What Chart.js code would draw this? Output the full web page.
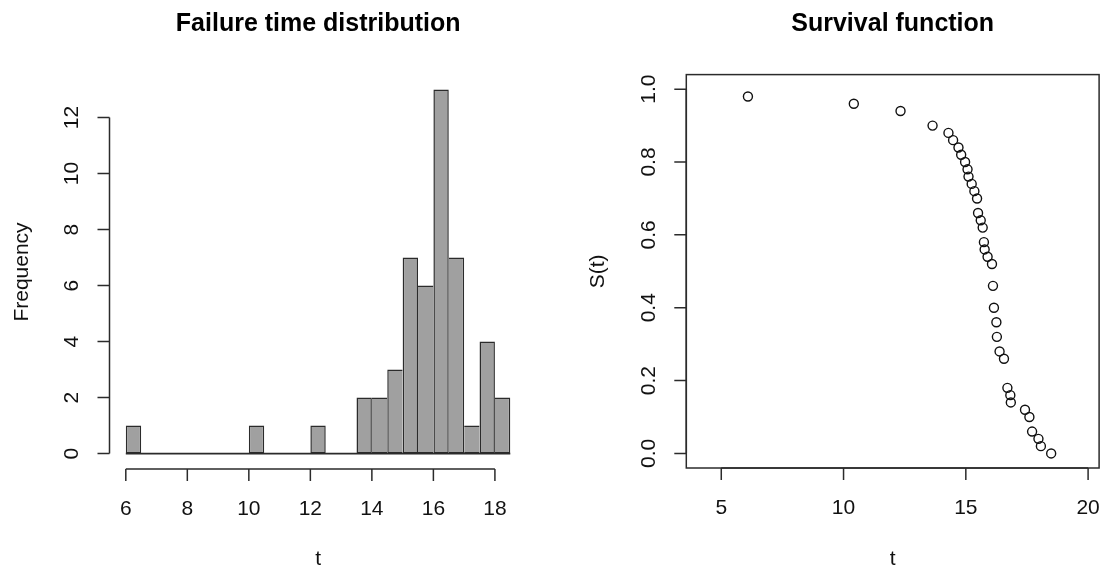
<!DOCTYPE html>
<html>
<head>
<meta charset="utf-8">
<title>Failure times</title>
<script src="https://cdn.jsdelivr.net/npm/chart.js@4.4.1/dist/chart.umd.min.js"></script>
<style>
body{margin:0;background:#fff;}
#graficas{position:relative;width:1105px;height:570px;}
#histo{position:absolute;left:0;top:0;}
#surv{position:absolute;left:552px;top:0;}
</style>
</head>
<body>
<div id="graficas">
	<canvas id="histo" width="552" height="570"></canvas>
	<canvas id="surv" width="553" height="570"></canvas>
</div>
<script>
// histogram: bin edges (width 0.5) and counts per bin
var histBreaks = [6, 6.5, 7, 7.5, 8, 8.5, 9, 9.5, 10, 10.5, 11, 11.5, 12, 12.5, 13, 13.5, 14, 14.5, 15, 15.5, 16, 16.5, 17, 17.5, 18, 18.5];
var histCounts = [1, 0, 0, 0, 0, 0, 0, 0, 1, 0, 0, 0, 1, 0, 0, 2, 2, 3, 7, 6, 13, 7, 1, 4, 2];
var histXTicks = [6, 8, 10, 12, 14, 16, 18];
var histYTicks = [0, 2, 4, 6, 8, 10, 12];

// survival function S(t) at the failure times
var survT = [6.09, 10.42, 12.33, 13.64, 14.29, 14.48, 14.70, 14.81, 14.97, 15.07, 15.11, 15.24, 15.35, 15.46, 15.50, 15.61, 15.69, 15.74, 15.77, 15.89, 16.07, 16.11, 16.15, 16.25, 16.27, 16.38, 16.56, 16.70, 16.82, 16.84, 17.42, 17.60, 17.71, 17.97, 18.07, 18.49];
var survS = [0.98, 0.96, 0.94, 0.90, 0.88, 0.86, 0.84, 0.82, 0.80, 0.78, 0.76, 0.74, 0.72, 0.70, 0.66, 0.64, 0.62, 0.58, 0.56, 0.54, 0.52, 0.46, 0.40, 0.36, 0.32, 0.28, 0.26, 0.18, 0.16, 0.14, 0.12, 0.10, 0.06, 0.04, 0.02, 0.00];
var survXTicks = [5, 10, 15, 20];
var survYTicks = [0, 0.2, 0.4, 0.6, 0.8, 1];
var survYLabels = ['0.0', '0.2', '0.4', '0.6', '0.8', '1.0'];

var fuente = '"Liberation Sans", Arial, Helvetica, sans-serif';
var tinta = '#2b2b2b';
var grosor = 1.5;

// ejes estilo R: linea solo entre el primer y ultimo tick, etiquetas y giradas
var ejesR = {
	id: 'ejesR',
	afterDatasetsDraw: function(chart, args, opts){
		var ctx = chart.ctx;
		var area = chart.chartArea;
		var sx = chart.scales.x, sy = chart.scales.y;
		ctx.save();
		ctx.strokeStyle = tinta;
		ctx.lineWidth = grosor;
		ctx.fillStyle = '#111';
		ctx.font = '21px ' + fuente;
		ctx.textAlign = 'center';
		ctx.textBaseline = 'middle';

		//eje x
		var xs = sx.ticks.map(function(t){ return sx.getPixelForValue(t.value); });
		var yb = area.bottom;
		ctx.beginPath();
		ctx.moveTo(xs[0], yb);
		ctx.lineTo(xs[xs.length - 1], yb);
		xs.forEach(function(px){
			ctx.moveTo(px, yb);
			ctx.lineTo(px, yb + 12);
		});
		ctx.stroke();
		sx.ticks.forEach(function(t, i){
			ctx.fillText(t.label, xs[i], yb + 40);
		});

		//eje y
		var ys = sy.ticks.map(function(t){ return sy.getPixelForValue(t.value); });
		var xl = area.left;
		ctx.beginPath();
		ctx.moveTo(xl, ys[0]);
		ctx.lineTo(xl, ys[ys.length - 1]);
		ys.forEach(function(py){
			ctx.moveTo(xl, py);
			ctx.lineTo(xl - 12, py);
		});
		ctx.stroke();
		sy.ticks.forEach(function(t, i){
			ctx.save();
			ctx.translate(xl - 37, ys[i]);
			ctx.rotate(-Math.PI / 2);
			ctx.fillText(t.label, 0, 0);
			ctx.restore();
		});

		//caja alrededor del grafico
		if (opts.caja) {
			ctx.strokeRect(area.left, area.top, area.right - area.left, area.bottom - area.top);
		}
		ctx.restore();
	}
};

function titulo(texto, arriba, abajo){
	return {
		display: true,
		text: texto,
		fullSize: false,
		color: '#000',
		font: {family: fuente, size: 25, weight: 'bold', lineHeight: 1.2},
		padding: {top: arriba, bottom: abajo}
	};
}

function tituloEje(texto, pad, alto){
	return {
		display: true,
		text: texto,
		color: '#111',
		font: {family: fuente, size: 21, lineHeight: alto},
		padding: pad
	};
}

// borde de cada barra: la linea entre dos barras la pone la mas alta
function bordeBarra(c){
	var i = c.dataIndex;
	var h = histCounts[i];
	if (!h) return 0;
	var izq = (i === 0 || histCounts[i - 1] < h) ? grosor : 0;
	var der = (i === histCounts.length - 1 || histCounts[i + 1] <= h) ? grosor : 0;
	return {top: grosor, bottom: grosor, left: izq, right: der};
}

//histograma
new Chart(document.getElementById('histo'), {
	type: 'bar',
	data: {
		datasets: [
		{
			type: 'bar',
			data: histCounts.map(function(c, i){
				return {x: (histBreaks[i] + histBreaks[i + 1]) / 2, y: c};
			}),
			backgroundColor: '#a0a0a0',
			borderColor: tinta,
			borderSkipped: false,
			borderWidth: bordeBarra,
			inflateAmount: 0,
			barPercentage: 1,
			categoryPercentage: 1,
			order: 2
		},
		{
			// linea base de las clases vacias (encima de las barras)
			type: 'line',
			data: [{x: histBreaks[0], y: 0}, {x: histBreaks[histBreaks.length - 1], y: 0}],
			borderColor: tinta,
			borderWidth: 1.8,
			pointRadius: 0,
			order: 1
		}
		]
	},
	options: {
		responsive: false,
		animation: false,
		devicePixelRatio: 1,
		events: [],
		layout: {padding: {left: 0, right: 25.1, top: 0, bottom: 0}},
		plugins: {
			legend: {display: false},
			tooltip: {enabled: false},
			title: titulo('Failure time distribution', 9, 36),
			ejesR: {caja: false}
		},
		scales: {
			x: {
				type: 'linear',
				offset: false,
				min: 5.47,
				max: 19.04,
				grid: {display: false},
				border: {display: false},
				ticks: {display: false},
				title: tituloEje('t', {top: 0, bottom: 1.5}, 0.85),
				afterBuildTicks: function(s){ s.ticks = histXTicks.map(function(v){ return {value: v}; }); },
				afterFit: function(s){ s.height = 101; }
			},
			y: {
				type: 'linear',
				min: -0.55,
				max: 13.52,
				grid: {display: false},
				border: {display: false},
				ticks: {display: false},
				title: tituloEje('Frequency', {top: 10, bottom: 0}, 1.2),
				afterBuildTicks: function(s){ s.ticks = histYTicks.map(function(v){ return {value: v}; }); },
				afterFit: function(s){ s.width = 109.5; }
			}
		}
	},
	plugins: [ejesR]
});

//funcion de supervivencia
new Chart(document.getElementById('surv'), {
	type: 'scatter',
	data: {
		datasets: [
		{
			data: survT.map(function(t, i){ return {x: t, y: survS[i]}; }),
			pointStyle: 'circle',
			pointRadius: 4.5,
			borderWidth: 1.4,
			borderColor: '#111',
			backgroundColor: 'rgba(0,0,0,0)'
		}
		]
	},
	options: {
		responsive: false,
		animation: false,
		devicePixelRatio: 1,
		events: [],
		layout: {padding: {left: 0, right: 3.7, top: 0, bottom: 0}},
		plugins: {
			legend: {display: false},
			tooltip: {enabled: false},
			title: titulo('Survival function', 9, 35.6),
			ejesR: {caja: true}
		},
		scales: {
			x: {
				type: 'linear',
				min: 3.57,
				max: 20.45,
				grid: {display: false},
				border: {display: false},
				ticks: {display: false},
				title: tituloEje('t', {top: 0, bottom: 1.5}, 0.85),
				afterBuildTicks: function(s){ s.ticks = survXTicks.map(function(v){ return {value: v}; }); },
				afterFit: function(s){ s.height = 102; }
			},
			y: {
				type: 'linear',
				min: -0.04,
				max: 1.04,
				grid: {display: false},
				border: {display: false},
				ticks: {
					display: false,
					callback: function(v, i){ return survYLabels[i]; }
				},
				title: tituloEje('S(t)', {top: 33.4, bottom: 0}, 1.2),
				afterBuildTicks: function(s){ s.ticks = survYTicks.map(function(v){ return {value: v}; }); },
				afterFit: function(s){ s.width = 134.3; }
			}
		}
	},
	plugins: [ejesR]
});
//fin de las graficas
</script>
</body>
</html>
